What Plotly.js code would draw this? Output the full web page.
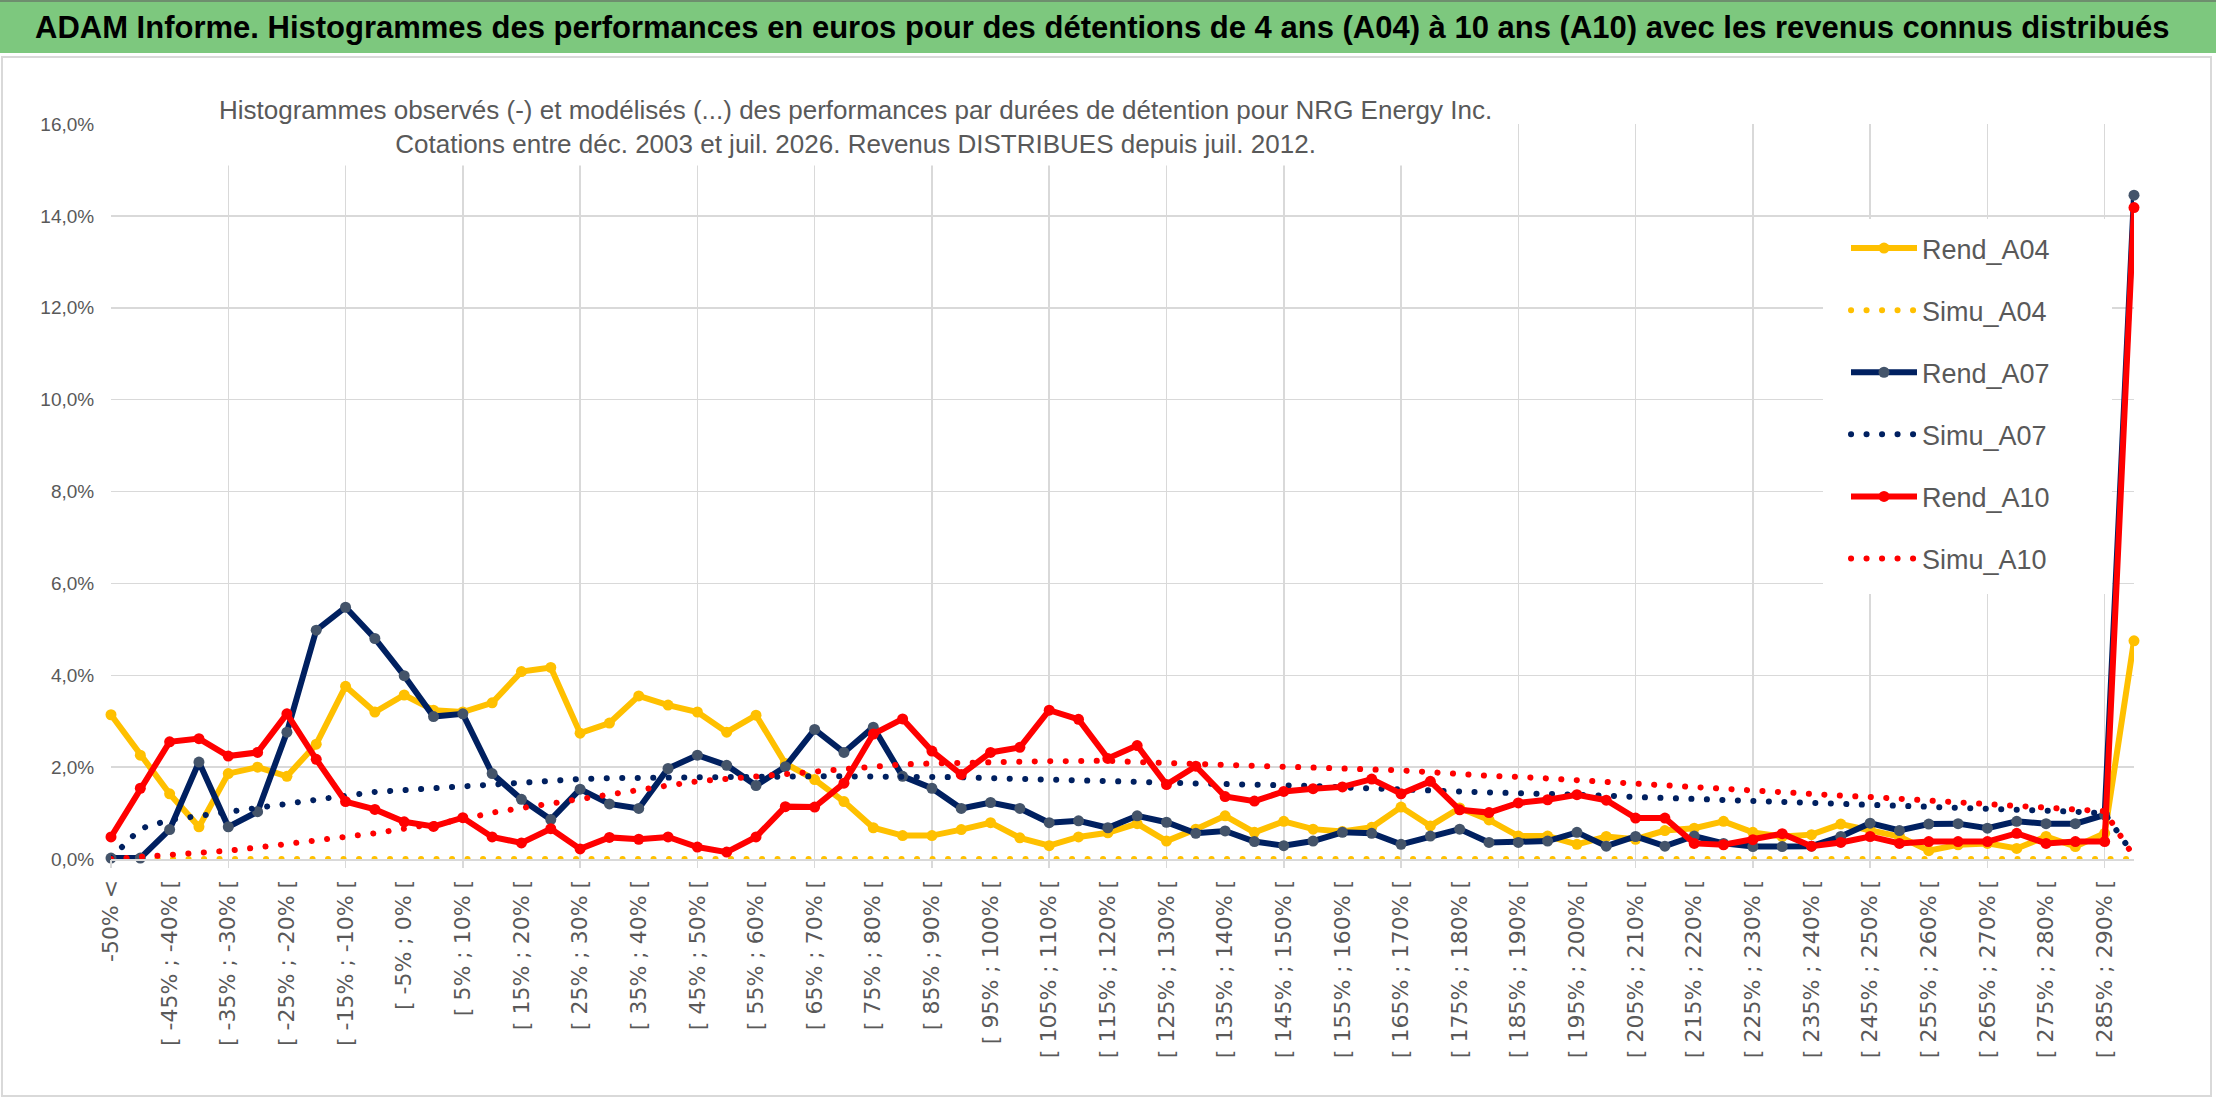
<!DOCTYPE html>
<html>
<head>
<meta charset="utf-8">
<script src="https://cdn.plot.ly/plotly-3.0.1.min.js"></script>
<style>
  html, body { margin: 0; padding: 0; background: #fff; }
  #graphDiv { width: 2216px; height: 1102px; }
</style>
</head>
<body>
<div id="graphDiv"></div>
<script>
'use strict';

// categories of the histogram (performance bins)
const categories = [
  "-50% <",
  "[ -50% ; -45% [", "[ -45% ; -40% [", "[ -40% ; -35% [", "[ -35% ; -30% [", "[ -30% ; -25% [",
  "[ -25% ; -20% [", "[ -20% ; -15% [", "[ -15% ; -10% [", "[ -10% ; -5% [", "[ -5% ; 0% [",
  "[ 0% ; 5% [", "[ 5% ; 10% [", "[ 10% ; 15% [", "[ 15% ; 20% [", "[ 20% ; 25% [",
  "[ 25% ; 30% [", "[ 30% ; 35% [", "[ 35% ; 40% [", "[ 40% ; 45% [", "[ 45% ; 50% [",
  "[ 50% ; 55% [", "[ 55% ; 60% [", "[ 60% ; 65% [", "[ 65% ; 70% [", "[ 70% ; 75% [",
  "[ 75% ; 80% [", "[ 80% ; 85% [", "[ 85% ; 90% [", "[ 90% ; 95% [", "[ 95% ; 100% [",
  "[ 100% ; 105% [", "[ 105% ; 110% [", "[ 110% ; 115% [", "[ 115% ; 120% [", "[ 120% ; 125% [",
  "[ 125% ; 130% [", "[ 130% ; 135% [", "[ 135% ; 140% [", "[ 140% ; 145% [", "[ 145% ; 150% [",
  "[ 150% ; 155% [", "[ 155% ; 160% [", "[ 160% ; 165% [", "[ 165% ; 170% [", "[ 170% ; 175% [",
  "[ 175% ; 180% [", "[ 180% ; 185% [", "[ 185% ; 190% [", "[ 190% ; 195% [", "[ 195% ; 200% [",
  "[ 200% ; 205% [", "[ 205% ; 210% [", "[ 210% ; 215% [", "[ 215% ; 220% [", "[ 220% ; 225% [",
  "[ 225% ; 230% [", "[ 230% ; 235% [", "[ 235% ; 240% [", "[ 240% ; 245% [", "[ 245% ; 250% [",
  "[ 250% ; 255% [", "[ 255% ; 260% [", "[ 260% ; 265% [", "[ 265% ; 270% [", "[ 270% ; 275% [",
  "[ 275% ; 280% [", "[ 280% ; 285% [", "[ 285% ; 290% [",
  "290% >"
];

// values in percent
const rendA04 = [
  3.14, 2.26, 1.42, 0.70, 1.86, 2.00, 1.80, 2.50, 3.76, 3.20,
  3.57, 3.24, 3.20, 3.40, 4.08, 4.17, 2.74, 2.96, 3.55, 3.35,
  3.20, 2.76, 3.13, 2.08, 1.73, 1.25, 0.68, 0.51, 0.51, 0.64,
  0.79, 0.46, 0.29, 0.48, 0.57, 0.77, 0.39, 0.65, 0.94, 0.58,
  0.82, 0.65, 0.60, 0.69, 1.13, 0.72, 1.11, 0.85, 0.50, 0.50,
  0.32, 0.49, 0.43, 0.62, 0.67, 0.82, 0.58, 0.49, 0.53, 0.76,
  0.64, 0.49, 0.18, 0.31, 0.34, 0.23, 0.49, 0.27, 0.56, 4.75
];
const simuA04 = [
  0, 0, 0, 0, 0, 0, 0, 0, 0, 0,
  0, 0, 0, 0, 0, 0, 0, 0, 0, 0,
  0, 0, 0, 0, 0, 0, 0, 0, 0, 0,
  0, 0, 0, 0, 0, 0, 0, 0, 0, 0,
  0, 0, 0, 0, 0, 0, 0, 0, 0, 0,
  0, 0, 0, 0, 0, 0, 0, 0, 0, 0,
  0, 0, 0, 0, 0, 0, 0, 0, 0, 0
];
const rendA07 = [
  0.02, 0.02, 0.64, 2.11, 0.70, 1.03, 2.76, 4.98, 5.48, 4.80,
  3.99, 3.10, 3.16, 1.86, 1.30, 0.86, 1.52, 1.20, 1.10, 1.97,
  2.26, 2.04, 1.60, 2.01, 2.82, 2.32, 2.87, 1.80, 1.54, 1.10,
  1.23, 1.10, 0.79, 0.83, 0.68, 0.94, 0.80, 0.56, 0.61, 0.38,
  0.29, 0.39, 0.58, 0.56, 0.32, 0.50, 0.65, 0.36, 0.36, 0.39,
  0.58, 0.28, 0.49, 0.28, 0.50, 0.34, 0.27, 0.27, 0.28, 0.49,
  0.78, 0.62, 0.76, 0.77, 0.67, 0.82, 0.77, 0.77, 0.96, 14.45
];
const simuA07 = [
  0.02, 0.66, 0.85, 0.93, 1.04, 1.11, 1.20, 1.29, 1.39, 1.46,
  1.50, 1.54, 1.58, 1.65, 1.69, 1.72, 1.74, 1.76, 1.77, 1.78,
  1.79, 1.79, 1.80, 1.80, 1.80, 1.80, 1.80, 1.79, 1.79, 1.78,
  1.76, 1.75, 1.74, 1.72, 1.70, 1.68, 1.66, 1.65, 1.64, 1.62,
  1.61, 1.59, 1.56, 1.53, 1.50, 1.48, 1.47, 1.45, 1.44, 1.42,
  1.40, 1.38, 1.35, 1.33, 1.31, 1.28, 1.26, 1.23, 1.20, 1.19,
  1.18, 1.16, 1.14, 1.11, 1.09, 1.07, 1.05, 1.03, 0.99, 0.08
];
const rendA10 = [
  0.48, 1.54, 2.55, 2.62, 2.24, 2.32, 3.16, 2.17, 1.25, 1.08,
  0.81, 0.71, 0.90, 0.48, 0.35, 0.66, 0.22, 0.47, 0.43, 0.48,
  0.26, 0.15, 0.48, 1.14, 1.13, 1.65, 2.72, 3.05, 2.35, 1.84,
  2.32, 2.43, 3.24, 3.04, 2.19, 2.47, 1.62, 2.02, 1.36, 1.26,
  1.47, 1.53, 1.57, 1.74, 1.42, 1.69, 1.07, 1.01, 1.22, 1.29,
  1.40, 1.28, 0.89, 0.89, 0.34, 0.31, 0.42, 0.55, 0.28, 0.36,
  0.49, 0.34, 0.38, 0.38, 0.38, 0.56, 0.34, 0.38, 0.38, 14.18
];
const simuA10 = [
  0.00, 0.04, 0.07, 0.12, 0.18, 0.25, 0.32, 0.40, 0.47, 0.56,
  0.66, 0.76, 0.86, 1.01, 1.11, 1.21, 1.32, 1.43, 1.51, 1.60,
  1.69, 1.74, 1.80, 1.86, 1.92, 1.96, 2.01, 2.06, 2.08, 2.10,
  2.12, 2.13, 2.13, 2.13, 2.14, 2.11, 2.09, 2.08, 2.07, 2.05,
  2.04, 2.02, 1.99, 1.96, 1.93, 1.89, 1.84, 1.81, 1.79, 1.75,
  1.72, 1.68, 1.64, 1.60, 1.56, 1.51, 1.47, 1.45, 1.42, 1.38,
  1.35, 1.31, 1.27, 1.24, 1.20, 1.16, 1.12, 1.08, 1.04, 0.05
];

const mainTitle = "ADAM Informe. Histogrammes des performances en euros pour des détentions de 4 ans (A04) à 10 ans (A10) avec les revenus connus distribués";
const subTitle = "Histogrammes observés (-) et modélisés (...) des performances par durées de détention pour NRG Energy Inc.<br>Cotations entre déc. 2003 et juil. 2026. Revenus DISTRIBUES depuis juil. 2012.";

const W = 2216, H = 1102;
const margin = { l: 111, r: 82, t: 124, b: 243 };
const PW = W - margin.l - margin.r;
const PH = H - margin.t - margin.b;
function px(x) { return (x - margin.l) / PW; }
function py(y) { return (H - margin.b - y) / PH; }

const sans = "'Liberation Sans', Arial, sans-serif";
const grey = '#595959';
const gridColor = '#D9D9D9';

function pct(arr) { return arr.map(v => v / 100); }

function rendTrace(name, values, lineColor, markerColor) {
  return {
    type: 'scatter', mode: 'lines+markers', name: name, legendgroup: name,
    x: categories, y: pct(values), cliponaxis: false,
    line: { color: lineColor, width: 6 },
    marker: { color: markerColor, size: 11 }
  };
}
function simuTrace(name, values, color) {
  return {
    type: 'scatter', mode: 'lines', name: name, legendgroup: name,
    x: categories, y: pct(values), cliponaxis: false,
    line: { color: color, width: 6, dash: '6px,9.5px' }
  };
}

const traces = [
  rendTrace('Rend_A04', rendA04, '#FFC000', '#FFC000'),
  simuTrace('Simu_A04', simuA04, '#FFC000'),
  rendTrace('Rend_A07', rendA07, '#002060', '#44546A'),
  simuTrace('Simu_A07', simuA07, '#002060'),
  rendTrace('Rend_A10', rendA10, '#FF0000', '#FF0000'),
  simuTrace('Simu_A10', simuA10, '#FF0000'),
  // empty helper so that the gridline axis knows the categories
  { type: 'scatter', mode: 'lines', x: categories, y: categories.map(() => null),
    xaxis: 'x2', showlegend: false, hoverinfo: 'skip' }
];

const layout = {
  width: W, height: H,
  margin: margin,
  paper_bgcolor: '#fff', plot_bgcolor: '#fff',
  separators: ', ',
  showlegend: true,
  legend: {
    x: px(1846), y: py(224), xanchor: 'left', yanchor: 'top',
    bgcolor: 'rgba(0,0,0,0)', traceorder: 'grouped', tracegroupgap: 24,
    itemwidth: 66,
    font: { family: sans, size: 27, color: grey }
  },
  xaxis: {
    type: 'category', range: [0, categories.length - 1],
    tickmode: 'array', tickvals: categories.filter((c, i) => i % 2 === 0),
    tickangle: -90, ticks: 'outside', ticklen: 10, tickcolor: 'rgba(0,0,0,0)',
    tickfont: { family: "'DejaVu Sans', sans-serif", size: 22, color: grey },
    showgrid: false, zeroline: false,
    showline: true, linecolor: gridColor, linewidth: 2
  },
  xaxis2: {
    type: 'category', overlaying: 'x', anchor: 'y', side: 'bottom',
    range: [0, categories.length - 1],
    tickmode: 'array', tickvals: categories.filter((c, i) => i % 4 === 0),
    showticklabels: false, ticks: 'outside', ticklen: 8, tickcolor: gridColor, tickwidth: 1.5,
    showgrid: true, gridcolor: gridColor, gridwidth: 1.5, zeroline: false
  },
  yaxis: {
    range: [0, 0.16], dtick: 0.02, tickformat: '.1%',
    ticks: 'outside', ticklen: 12, tickcolor: 'rgba(0,0,0,0)',
    tickfont: { family: sans, size: 19, color: grey },
    showgrid: true, gridcolor: gridColor, gridwidth: 1.5, zeroline: false
  },
  shapes: [
    // green title band
    { type: 'rect', xref: 'paper', yref: 'paper', x0: px(0), x1: px(W), y0: py(53), y1: py(2),
      fillcolor: '#7DC87E', line: { width: 0 }, layer: 'above' },
    { type: 'line', xref: 'paper', yref: 'paper', x0: px(0), x1: px(W), y0: py(1), y1: py(1),
      line: { color: '#6E8E6E', width: 2 } },
    // chart frame
    { type: 'rect', xref: 'paper', yref: 'paper', x0: px(2), x1: px(2211), y0: py(1096), y1: py(57),
      line: { color: gridColor, width: 2 } },
    // legend box background
    { type: 'rect', xref: 'paper', yref: 'paper', x0: px(1823), x1: px(2112), y0: py(594), y1: py(219),
      fillcolor: '#fff', line: { width: 0 }, layer: 'above' }
  ],
  annotations: [
    { text: '<b>' + mainTitle + '</b>', xref: 'paper', yref: 'paper', x: px(33), y: py(28),
      xanchor: 'left', yanchor: 'middle', showarrow: false,
      font: { family: sans, size: 31, color: '#000' } },
    { text: subTitle, xref: 'paper', yref: 'paper', x: px(855), y: py(127),
      xanchor: 'center', yanchor: 'middle', showarrow: false, align: 'center',
      bgcolor: '#fff', borderpad: 6,
      font: { family: sans, size: 26, color: grey } }
  ]
};

// round dots for the modelled series, as in the spreadsheet chart
function roundDots() {
  document.querySelectorAll('#graphDiv path').forEach(p => {
    if (p.style.strokeDasharray && p.style.strokeDasharray.indexOf('9.5') >= 0) {
      p.style.strokeLinecap = 'round';
      p.style.strokeDasharray = '0.1px, 15.4px';
    }
  });
}

Plotly.newPlot(graphDiv, traces, layout, { staticPlot: true }).then(roundDots);
</script>
</body>
</html>
